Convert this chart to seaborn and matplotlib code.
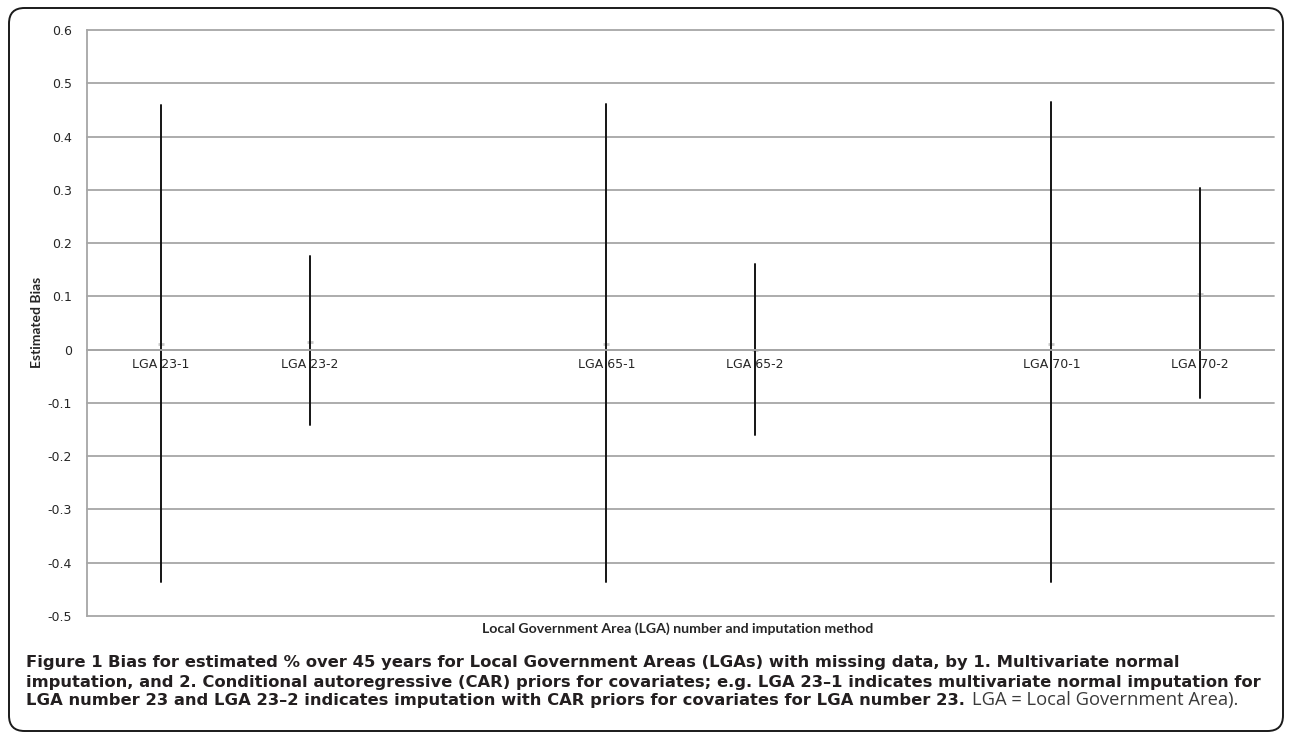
import matplotlib
matplotlib.use("Agg")
import matplotlib.pyplot as plt
from matplotlib.patches import FancyBboxPatch
from matplotlib.ticker import FixedLocator, FuncFormatter
import numpy as np
import pandas as pd
import seaborn as sns

# Interval limits and point estimates of the bias for each LGA / imputation method
categories = ["LGA 23-1", "LGA 23-2", " ", "LGA 65-1", "LGA 65-2", "  ", "LGA 70-1", "LGA 70-2"]
lga_labels = ["LGA 23-1", "LGA 23-2", "", "LGA 65-1", "LGA 65-2", "", "LGA 70-1", "LGA 70-2"]
measured = ["LGA 23-1", "LGA 23-2", "LGA 65-1", "LGA 65-2", "LGA 70-1", "LGA 70-2"]
lower = [-0.437, -0.141, -0.437, -0.160, -0.437, -0.091]
estimate = [0.010, 0.015, 0.010, 0.000, 0.010, 0.105]
upper = [0.460, 0.176, 0.462, 0.160, 0.464, 0.304]
y_ticks = [-0.5, -0.4, -0.3, -0.2, -0.1, 0.0, 0.1, 0.2, 0.3, 0.4, 0.5, 0.6]

records = []
for name, lo, mid, hi in zip(measured, lower, estimate, upper):
    for v in (lo, mid, hi):
        records.append({"lga": name, "bias": v})
df = pd.DataFrame(records)

sns.set_style("white")
plt.rcParams["font.family"] = ["DejaVu Sans"]

W, H, DPI = 1290, 733, 100
fig = plt.figure(figsize=(W / DPI, H / DPI), dpi=DPI)
ax = fig.add_axes([87 / W, 1 - 616 / H, (1274 - 87) / W, (616 - 30) / H])

grid_col = "#a6a6a6"
sns.pointplot(
    data=df, x="lga", y="bias", order=categories,
    estimator="median", errorbar=lambda v: (v.min(), v.max()),
    linestyle="none", marker="_", markersize=5, color="#c8c8c8",
    err_kws={"color": "#141414", "linewidth": 1.4},
    ax=ax,
)

ax.set_ylim(-0.5, 0.6)
ax.yaxis.set_major_locator(FixedLocator(y_ticks))
ax.yaxis.set_major_formatter(FuncFormatter(lambda v, p: f"{round(v, 1):g}"))
ax.grid(axis="y", color=grid_col, linewidth=1.3)
ax.set_axisbelow(True)
for gl in ax.get_ygridlines():
    gl.set_clip_on(False)

for s in ("top", "right"):
    ax.spines[s].set_visible(False)
ax.spines["left"].set_color(grid_col)
ax.spines["left"].set_linewidth(1.3)
ax.spines["bottom"].set_position(("data", 0))
ax.spines["bottom"].set_color(grid_col)
ax.spines["bottom"].set_linewidth(1.3)

ax.set_xticks(range(len(categories)))
ax.set_xticklabels(lga_labels)
ax.tick_params(axis="x", length=0, pad=6, labelsize=9.0, colors="#262626")
ax.tick_params(axis="y", length=0, pad=11, labelsize=9.0, colors="#262626")
ax.set_xlabel("")
ax.set_ylabel("")

fig.text(37 / W, 1 - 322 / H, "Estimated Bias", rotation=90, ha="center", va="center",
         fontsize=10, fontweight="bold", family=["Lato", "DejaVu Sans"], color="#262626")
fig.text(678 / W, 1 - 629 / H, "Local Government Area (LGA) number and imputation method",
         ha="center", va="center", fontsize=10.2, fontweight="bold",
         family=["Lato", "DejaVu Sans"], color="#262626")

# Caption
cap_col = "#231f20"
cap_font = ["DejaVu Sans"]
lines = [
    ("Figure 1 ", "Bias for estimated % over 45 years for Local Government Areas (LGAs) with missing data, by 1. Multivariate normal"),
    ("", "imputation, and 2. Conditional autoregressive (CAR) priors for covariates; e.g. LGA 23\u20131 indicates multivariate normal imputation for"),
    ("", "LGA number 23 and LGA 23\u20132 indicates imputation with CAR priors for covariates for LGA number 23."),
]
ys = [663, 682, 700]
x_left = 26
fig.canvas.draw()
renderer = fig.canvas.get_renderer()

# size the caption so that the first line spans the panel width
probe = fig.text(0, 0, lines[0][0] + lines[0][1], fontsize=10, fontweight="bold", family=cap_font)
probe_w = probe.get_window_extent(renderer).width
probe.remove()
cap_size = 10 * (1180 - x_left) / probe_w

tail = None
for (head, body), yy in zip(lines, ys):
    x0 = x_left
    if head:
        t = fig.text(x0 / W, 1 - yy / H, head, ha="left", va="center", fontsize=cap_size,
                     fontweight="bold", family=cap_font, color=cap_col)
        x0 = t.get_window_extent(renderer).x1
    t = fig.text(x0 / W, 1 - yy / H, body, ha="left", va="center", fontsize=cap_size,
                 fontweight="bold", family=cap_font, color=cap_col)
    tail = t
x_end = tail.get_window_extent(renderer).x1
fig.text((x_end + 7) / W, 1 - 700 / H, "LGA = Local Government Area).", ha="left", va="center",
         fontsize=cap_size * 1.12, fontweight="normal", family=["Open Sans", "DejaVu Sans"],
         color="#3a3a3a")

# Rounded frame around the figure panel
frame = FancyBboxPatch((9 / W, 2 / H), (1283 - 9) / W, (725 - 2) / H,
                       boxstyle="round,pad=0,rounding_size=0.012",
                       transform=fig.transFigure, fill=False, edgecolor="#1a1a1a",
                       linewidth=1.4, mutation_aspect=W / H)
fig.patches.append(frame)

fig.savefig("out.png", dpi=DPI)
